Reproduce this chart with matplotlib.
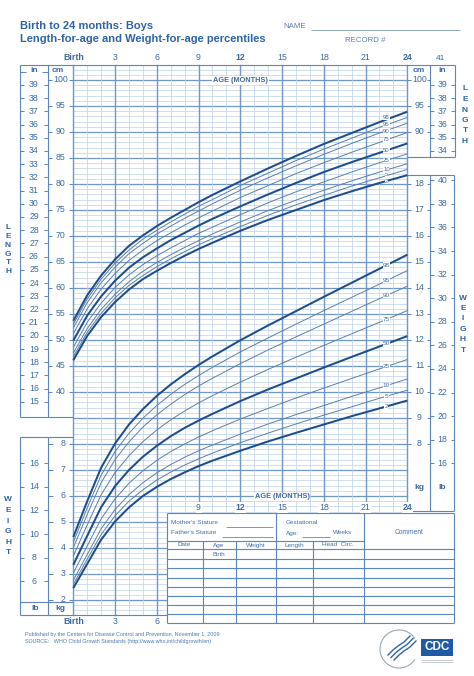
import numpy as np
import matplotlib
matplotlib.use('Agg')
import matplotlib.pyplot as plt
from matplotlib.patches import Rectangle, Arc

plt.rcParams['font.family'] = ['Liberation Sans', 'DejaVu Sans']

# ---------------- data ----------------
months = [0, 1, 2, 3, 4, 5, 6, 7, 8, 9, 10, 12, 14, 16, 18, 20, 22, 24]
percentile_names = ['2', '5', '10', '25', '50', '75', '90', '95', '98']

# length-for-age (cm)
length_p2 = [46.1, 50.8, 54.4, 57.3, 59.7, 61.7, 63.3, 64.8, 66.2, 67.5, 68.7, 71.0, 73.1, 75.0, 76.9, 78.6, 80.2, 81.7]
length_p5 = [46.8, 51.5, 55.1, 58.1, 60.5, 62.4, 64.1, 65.6, 67.0, 68.3, 69.5, 71.8, 74.0, 76.0, 77.8, 79.6, 81.2, 82.8]
length_p10 = [47.5, 52.2, 55.9, 58.8, 61.2, 63.2, 64.9, 66.4, 67.8, 69.1, 70.4, 72.7, 74.9, 76.9, 78.8, 80.6, 82.3, 83.9]
length_p25 = [48.6, 53.4, 57.1, 60.1, 62.5, 64.5, 66.2, 67.7, 69.1, 70.5, 71.7, 74.1, 76.4, 78.5, 80.4, 82.3, 84.1, 85.8]
length_p50 = [49.9, 54.7, 58.4, 61.4, 63.9, 65.9, 67.6, 69.2, 70.6, 72.0, 73.3, 75.7, 78.0, 80.2, 82.3, 84.2, 86.0, 87.8]
length_p75 = [51.2, 56.0, 59.8, 62.8, 65.3, 67.3, 69.1, 70.6, 72.1, 73.5, 74.8, 77.4, 79.7, 82.0, 84.1, 86.1, 88.0, 89.9]
length_p90 = [52.3, 57.2, 61.0, 64.0, 66.6, 68.6, 70.4, 71.9, 73.4, 74.8, 76.2, 78.8, 81.2, 83.5, 85.7, 87.8, 89.8, 91.7]
length_p95 = [53.0, 57.9, 61.7, 64.8, 67.3, 69.4, 71.1, 72.7, 74.2, 75.7, 77.0, 79.7, 82.1, 84.5, 86.7, 88.8, 90.9, 92.8]
length_p98 = [53.7, 58.6, 62.4, 65.5, 68.1, 70.1, 71.9, 73.5, 75.0, 76.5, 77.9, 80.5, 83.0, 85.4, 87.7, 89.8, 91.9, 93.9]

# weight-for-age (kg)
weight_p2 = [2.46, 3.39, 4.32, 5.02, 5.56, 6.00, 6.35, 6.65, 6.91, 7.15, 7.36, 7.74, 8.10, 8.43, 8.75, 9.07, 9.37, 9.67]
weight_p5 = [2.60, 3.57, 4.52, 5.24, 5.80, 6.24, 6.61, 6.92, 7.19, 7.43, 7.65, 8.05, 8.42, 8.77, 9.11, 9.43, 9.76, 10.07]
weight_p10 = [2.76, 3.75, 4.74, 5.48, 6.05, 6.51, 6.89, 7.21, 7.49, 7.74, 7.96, 8.38, 8.77, 9.13, 9.48, 9.83, 10.16, 10.50]
weight_p25 = [3.03, 4.08, 5.12, 5.89, 6.49, 6.97, 7.37, 7.71, 8.00, 8.27, 8.51, 8.96, 9.37, 9.77, 10.15, 10.52, 10.89, 11.25]
weight_p50 = [3.35, 4.47, 5.57, 6.38, 7.00, 7.51, 7.93, 8.30, 8.62, 8.90, 9.16, 9.65, 10.10, 10.52, 10.94, 11.35, 11.75, 12.15]
weight_p75 = [3.69, 4.89, 6.05, 6.90, 7.55, 8.09, 8.54, 8.93, 9.27, 9.58, 9.86, 10.38, 10.87, 11.34, 11.79, 12.24, 12.68, 13.13]
weight_p90 = [4.01, 5.29, 6.51, 7.40, 8.08, 8.65, 9.12, 9.53, 9.90, 10.23, 10.53, 11.09, 11.62, 12.12, 12.61, 13.10, 13.59, 14.07]
weight_p95 = [4.22, 5.54, 6.80, 7.71, 8.41, 8.99, 9.48, 9.91, 10.29, 10.63, 10.95, 11.54, 12.08, 12.61, 13.13, 13.64, 14.15, 14.67]
weight_p98 = [4.42, 5.80, 7.09, 8.02, 8.75, 9.34, 9.85, 10.29, 10.68, 11.04, 11.37, 11.99, 12.56, 13.11, 13.66, 14.20, 14.74, 15.28]

age_ticks = [0, 3, 6, 9, 12, 15, 18, 21, 24]
age_labels = ['Birth', '3', '6', '9', '12', '15', '18', '21', '24']
cm_left_ticks = [40, 45, 50, 55, 60, 65, 70, 75, 80, 85, 90, 95, 100]
in_left_ticks = list(range(15, 40))
kg_left_ticks = [2, 3, 4, 5, 6, 7, 8]
lb_left_ticks = [6, 8, 10, 12, 14, 16]
cm_right_ticks = [90, 95, 100]
in_right_ticks = [34, 35, 36, 37, 38, 39]
kg_right_ticks = [8, 9, 10, 11, 12, 13, 14, 15, 16, 17, 18]
lb_right_ticks = [16, 18, 20, 22, 24, 26, 28, 30, 32, 34, 36, 38, 40]

# ---------------- layout helpers ----------------
PX0, PXM = 73.3, 13.917      # pixel of birth, pixels per month
PY100, PYCM = 80.0, 5.2      # pixel of 100 cm, pixels per cm
TOP = 64.5


def xm(px):
    return (px - PX0) / PXM


def yc(py):
    return 100 - (py - PY100) / PYCM


def kg2c(kg):
    return 5 * np.asarray(kg, dtype=float) - 10


def in2c(v):
    return np.asarray(v, dtype=float) * 2.54


def lb2c(v):
    return kg2c(np.asarray(v, dtype=float) / 2.20462)


def pyof(c):
    return PY100 + (100 - c) * PYCM


fig = plt.figure(figsize=(4.74, 6.76), dpi=100)
ax = fig.add_axes([0, 0, 1, 1])
ax.set_xlim(xm(0), xm(474))
ax.set_ylim(yc(676), yc(0))
ax.axis('off')

BLUE = '#2c64a6'
TXT = '#3a6aa6'
MINOR = '#bcd2ea'
MAJOR = '#6f97c7'
BOX = '#5a86bd'
DARK = '#1d4d8c'
THIN = '#5c7ea6'


def T(px, py, s, **kw):
    kw.setdefault('color', TXT)
    kw.setdefault('ha', 'center')
    kw.setdefault('va', 'center')
    ax.text(xm(px), yc(py), s, **kw)


def L(px1, py1, px2, py2, **kw):
    kw.setdefault('color', BOX)
    kw.setdefault('lw', 0.8)
    ax.plot([xm(px1), xm(px2)], [yc(py1), yc(py2)], solid_capstyle='butt', **kw)


def R(px1, py1, px2, py2, **kw):
    ax.add_patch(Rectangle((xm(px1), yc(py2)), xm(px2) - xm(px1), yc(py1) - yc(py2), **kw))


# ---------------- grid ----------------
ctop, cbot = yc(TOP), yc(615)
for c in range(-2, 103):
    major = (c % 5 == 0)
    ax.plot([0, 24], [c, c], color=MAJOR if major else MINOR,
            lw=0.9 if major else 0.5, zorder=1)
for m in range(0, 25):
    major = (m % 3 == 0)
    ax.plot([m, m], [cbot, ctop], color=MAJOR if major else MINOR,
            lw=1.0 if major else 0.5, zorder=1)

# table cover
R(167, 513, 454, 623, facecolor='white', edgecolor='none', zorder=2)

# ---------------- curves ----------------
length_sets = [length_p2, length_p5, length_p10, length_p25, length_p50,
               length_p75, length_p90, length_p95, length_p98]
weight_sets = [weight_p2, weight_p5, weight_p10, weight_p25, weight_p50,
               weight_p75, weight_p90, weight_p95, weight_p98]
# small vertical nudges (pixels) so crowded length labels do not collide
len_label_nudge = {'98': -2.5, '95': -0.3, '90': 1.2, '5': -0.9, '2': 0.8}
for name, lv, wv in zip(percentile_names, length_sets, weight_sets):
    heavy = name in ('2', '50', '98')
    col = DARK if heavy else THIN
    lw = 1.45 if heavy else 0.7
    ax.plot(months, lv, color=col, lw=lw, zorder=3, solid_capstyle='butt')
    ax.plot(months, kg2c(wv), color=col, lw=lw, zorder=3, solid_capstyle='butt')
    lx = 22.5
    yl = np.interp(lx, months, lv) - len_label_nudge.get(name, 0) / PYCM
    ax.text(lx, yl, name, fontsize=4.3, color=TXT, ha='center', va='center', zorder=4,
            bbox=dict(facecolor='white', edgecolor='none', pad=0.1))
    yw = np.interp(lx, months, kg2c(wv))
    ax.text(lx, yw, name, fontsize=4.6, color=TXT, ha='center', va='center', zorder=4,
            bbox=dict(facecolor='white', edgecolor='none', pad=0.2))

# ---------------- frame boxes ----------------
L(20, TOP, 455, TOP)
# left length box
L(20, TOP, 20, 417); L(48, TOP, 48, 417); L(20, 417, 73, 417)
# left weight box
L(20, 437, 73, 437); L(20, 437, 20, 615); L(48, 437, 48, 615)
L(20, 602, 73, 602); L(20, 615, 167, 615)
# right length box
L(430, TOP, 430, 157); L(455, TOP, 455, 157); L(407, 157, 455, 157)
# right weight box
L(407, 175, 454, 175); L(430, 175, 430, 511); L(454, 175, 454, 511); L(407, 511, 454, 511)

# ---------------- scales ----------------
FS = 6.3
for v in in_left_ticks:
    py = pyof(in2c(v))
    L(20, py, 24, py, lw=0.7); L(44, py, 48, py, lw=0.7)
    T(34, py, str(v), fontsize=FS)
py = pyof(in2c(40))
L(20, py, 26, py, lw=0.7); L(42, py, 48, py, lw=0.7)
T(34, py - 1, 'in', fontsize=6, fontweight='bold')
T(58, 70.5, 'cm', fontsize=6, fontweight='bold')
for v in cm_left_ticks:
    py = pyof(v)
    L(48, py, 52, py, lw=0.7); L(68.5, py, 73, py, lw=0.7)
    T(60.5, py, str(v), fontsize=FS)
for v in kg_left_ticks:
    py = pyof(kg2c(v))
    L(48, py, 53, py, lw=0.7); L(69, py, 73, py, lw=0.7)
    T(63, py, str(v), fontsize=FS)
for v in lb_left_ticks:
    py = pyof(lb2c(v))
    L(20, py, 24, py, lw=0.7); L(44, py, 48, py, lw=0.7)
    T(34, py, str(v), fontsize=FS)
T(35, 608.5, 'lb', fontsize=6, fontweight='bold')
T(60, 608.5, 'kg', fontsize=6, fontweight='bold')

T(419, 70.5, 'cm', fontsize=6, fontweight='bold')
T(442, 70.5, 'in', fontsize=6, fontweight='bold')
for v in cm_right_ticks:
    py = pyof(v)
    L(407, py, 411, py, lw=0.7); L(427, py, 430, py, lw=0.7)
    T(419.5, py, str(v), fontsize=FS)
for v in in_right_ticks:
    py = pyof(in2c(v))
    L(430, py, 434, py, lw=0.7); L(451, py, 455, py, lw=0.7)
    T(442.5, py, str(v), fontsize=FS)
T(441, 59, '41', fontsize=6)
for v in kg_right_ticks:
    py = pyof(kg2c(v))
    L(407, py, 411, py, lw=0.7); L(427, py, 430, py, lw=0.7)
    T(419.5, py, str(v), fontsize=FS)
for v in lb_right_ticks:
    py = pyof(lb2c(v))
    L(430, py, 434, py, lw=0.7); L(451, py, 454, py, lw=0.7)
    T(442.5, py, str(v), fontsize=FS)
T(419, 488, 'kg', fontsize=6, fontweight='bold')
T(442, 488, 'lb', fontsize=6, fontweight='bold')

# age labels
for m, lab in zip(age_ticks, age_labels):
    bold = lab in ('Birth', '12', '24')
    ax.text(m, yc(58), lab, fontsize=6.3, color=TXT, ha='center', va='center',
            fontweight='bold' if bold else 'normal')
    if m <= 6:
        ax.text(m, yc(622), lab, fontsize=6.3, color=TXT, ha='center', va='center',
                fontweight='bold' if bold else 'normal')
    else:
        ax.text(m, yc(507.5), lab, fontsize=6.3, color=TXT, ha='center', va='center',
                fontweight='bold' if bold else 'normal', zorder=4,
                bbox=dict(facecolor='white', edgecolor='none', pad=0.4))
ax.text(12, yc(80.5), 'AGE (MONTHS)', fontsize=5.3, fontweight='bold', color=TXT,
        ha='center', va='center', zorder=4,
        bbox=dict(facecolor='white', edgecolor='none', pad=0.6))
ax.text(15, yc(497), 'AGE (MONTHS)', fontsize=5.3, fontweight='bold', color=TXT,
        ha='center', va='center', zorder=4,
        bbox=dict(facecolor='white', edgecolor='none', pad=0.6))

# vertical side words
for i, ch in enumerate('LENGTH'):
    T(8, 228 + i * 8.7, ch, fontsize=6, fontweight='bold', color=BLUE)
    T(465, 89 + i * 10.5, ch, fontsize=6, fontweight='bold', color=BLUE)
for i, ch in enumerate('WEIGHT'):
    T(8, 500 + i * 10.6, ch, fontsize=6, fontweight='bold', color=BLUE)
    T(463, 298 + i * 10.4, ch, fontsize=6, fontweight='bold', color=BLUE)

# ---------------- title block ----------------
T(20, 26, 'Birth to 24 months: Boys', fontsize=8, fontweight='bold', color=BLUE, ha='left')
T(20, 39.5, 'Length-for-age and Weight-for-age percentiles', fontsize=8,
  fontweight='bold', color=BLUE, ha='left')
T(283, 27, 'NAME', fontsize=5.7, color='#5a7fae', ha='left')
L(311, 30, 460, 30, lw=0.6, color='#7d9cc4')
T(345, 41, 'RECORD #', fontsize=5.7, color='#5a7fae', ha='left')

# ---------------- record table ----------------
TC = '#3f70ad'
TL = dict(lw=0.8, color=BOX, zorder=3)
L(167, 513, 454, 513, **TL); L(167, 623, 454, 623, **TL)
L(167, 513, 167, 623, **TL); L(454, 513, 454, 623, **TL)
L(276, 513, 276, 623, **TL); L(364, 513, 364, 623, **TL)
L(167, 541, 364, 541, **TL)
for py in [549.3, 559, 568.3, 577.7, 586.8, 596, 605.3, 614.3]:
    L(167, py, 454, py, **TL)
for px in [203, 236, 313]:
    L(px, 541, px, 623, **TL)
T(171, 523, "Mother's Stature", fontsize=4.6, color=TC, ha='left', zorder=4)
L(226, 526.5, 273, 526.5, lw=0.5, color=TC, zorder=4)
T(171, 533, "Father's Stature", fontsize=4.6, color=TC, ha='left', zorder=4)
L(222, 536.5, 273, 536.5, lw=0.5, color=TC, zorder=4)
T(286, 523, 'Gestational', fontsize=4.6, color=TC, ha='left', zorder=4)
T(286, 533, 'Age:', fontsize=4.6, color=TC, ha='left', zorder=4)
L(302, 536.5, 330, 536.5, lw=0.5, color=TC, zorder=4)
T(333, 533, 'Weeks', fontsize=4.6, color=TC, ha='left', zorder=4)
T(409, 533, 'Comment', fontsize=4.8, color=TC, zorder=4)
for px, lab in [(184, 'Date'), (219, 'Age'), (256, 'Weight'), (294, 'Length'), (338, 'Head  Circ.')]:
    T(px, 545, lab, fontsize=4.6, color=TC, zorder=4)
T(219, 555, 'Birth', fontsize=4.4, color=TC, zorder=4)

# ---------------- footer ----------------
T(25, 634.5, 'Published by the Centers for Disease Control and Prevention, November 1, 2009',
  fontsize=3.9, color='#4a78b0', ha='left')
T(25, 642, 'SOURCE:   WHO Child Growth Standards (http://www.who.int/childgrowth/en)',
  fontsize=3.9, color='#4a78b0', ha='left')

# logos
ax.add_patch(Arc((xm(399), yc(649)), 38 / PXM, 38 / PYCM, theta1=60, theta2=300,
                 color='#9aa6b4', lw=0.8))
for k in range(3):
    xs = np.array([388, 393, 398, 404, 410]) + k * 3
    ys = np.array([655, 650, 646, 642, 636]) + k * 2.5
    ax.plot(xm(xs), yc(ys), color='#2f64a8', lw=1.0)
R(421, 639, 453, 656, facecolor='#1f5aa6', edgecolor='none')
T(437, 647.5, 'CDC', fontsize=8.5, fontweight='bold', color='white')
L(421, 660, 453, 660, lw=0.4, color='#9aa6b4')
L(421, 662, 453, 662, lw=0.4, color='#9aa6b4')

fig.savefig('out.png', dpi=100)
